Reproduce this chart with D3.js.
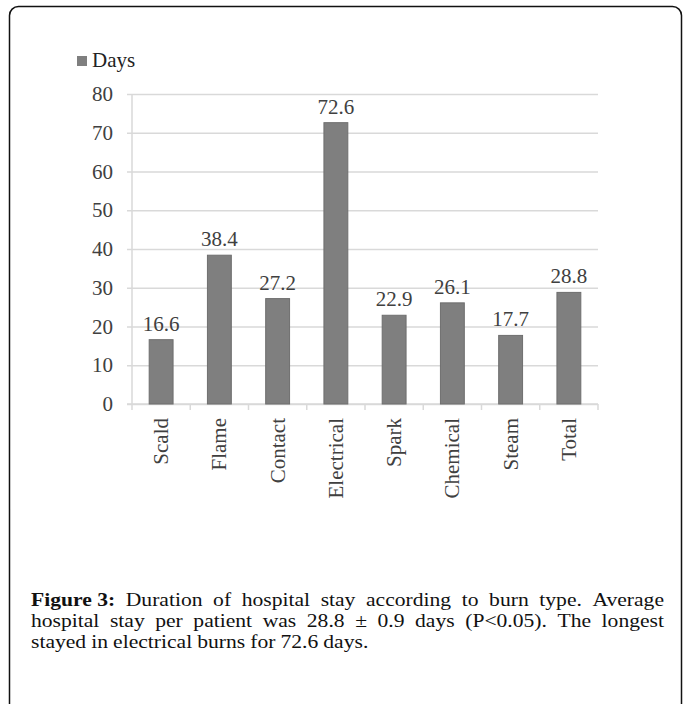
<!DOCTYPE html>
<html>
<head>
<meta charset="utf-8">
<script src="https://cdn.jsdelivr.net/npm/d3@7"></script>
<style>
  body { margin: 0; background: #fff; }
  svg { display: block; }
</style>
</head>
<body>
<div id="chart"></div>
<script>
// data
var categories = ["Scald", "Flame", "Contact", "Electrical", "Spark", "Chemical", "Steam", "Total"];
var days = [16.6, 38.4, 27.2, 72.6, 22.9, 26.1, 17.7, 28.8];
var yTicks = [0, 10, 20, 30, 40, 50, 60, 70, 80];
var seriesName = "Days";

var W = 683, H = 704;
var plot = {left: 132, right: 598, top: 94, bottom: 404};

var svg = d3.select("#chart")
  .append("svg")
  .attr("width", W)
  .attr("height", H);

// frame around figure
svg.append("rect")
  .attr("x", 9.5).attr("y", 6.5)
  .attr("width", 672).attr("height", 740)
  .attr("rx", 9)
  .attr("fill", "none")
  .attr("stroke", "#111")
  .attr("stroke-width", 1.5);

var x = d3.scaleBand()
  .domain(categories)
  .range([plot.left, plot.right])
  .paddingInner(0.59)
  .paddingOuter(0.295);

var y = d3.scaleLinear()
  .domain([0, 80])
  .range([plot.bottom, plot.top]);

var serif = "'Liberation Serif', 'Times New Roman', serif";
var fs = "21px";

// gridlines + y labels
var yAxis = svg.append("g")
  .attr("transform", "translate(" + plot.left + ",0)")
  .call(d3.axisLeft(y)
    .tickValues(yTicks)
    .tickSize(-(plot.right - plot.left))
    .tickPadding(19)
    .tickFormat(d3.format("d")));
yAxis.select(".domain").remove();
yAxis.selectAll(".tick line")
  .attr("x1", -5)
  .attr("stroke", "#d9d9d9")
  .attr("stroke-width", 1.5);
yAxis.selectAll(".tick text")
  .attr("fill", "#404040")
  .style("font-family", serif)
  .style("font-size", fs);

// y axis line
svg.append("line")
  .attr("x1", plot.left).attr("x2", plot.left)
  .attr("y1", y(80)).attr("y2", y(0))
  .attr("stroke", "#d9d9d9").attr("stroke-width", 1.5);

// x axis
var step = x.step();
var xAxis = svg.append("g")
  .attr("transform", "translate(0," + plot.bottom + ")");
xAxis.append("line")
  .attr("x1", plot.left - 5).attr("x2", plot.right)
  .attr("stroke", "#d9d9d9").attr("stroke-width", 1.5);
xAxis.selectAll("line.tk")
  .data(d3.range(categories.length + 1))
  .enter().append("line")
  .attr("class", "tk")
  .attr("x1", function(i) { return plot.left + i * step; })
  .attr("x2", function(i) { return plot.left + i * step; })
  .attr("y1", 0).attr("y2", 6)
  .attr("stroke", "#d9d9d9").attr("stroke-width", 1.5);
xAxis.selectAll("text")
  .data(categories)
  .enter().append("text")
  .attr("transform", function(d) {
    return "translate(" + (x(d) + x.bandwidth() / 2 + 7) + ",14) rotate(-90)";
  })
  .attr("text-anchor", "end")
  .attr("fill", "#404040")
  .style("font-family", serif)
  .style("font-size", fs)
  .text(function(d) { return d; });

// bars
svg.append("g")
  .selectAll("rect")
  .data(days)
  .enter().append("rect")
  .attr("x", function(d, i) { return x(categories[i]); })
  .attr("y", function(d) { return y(d); })
  .attr("width", x.bandwidth())
  .attr("height", function(d) { return y(0) - y(d); })
  .attr("fill", "#7f7f7f")
  .attr("stroke", "#6e6e6e")
  .attr("stroke-width", 1);

// value labels
svg.append("g")
  .selectAll("text")
  .data(days)
  .enter().append("text")
  .attr("x", function(d, i) { return x(categories[i]) + x.bandwidth() / 2; })
  .attr("y", function(d) { return y(d) - 9; })
  .attr("text-anchor", "middle")
  .attr("fill", "#404040")
  .style("font-family", serif)
  .style("font-size", fs)
  .text(function(d) { return d.toFixed(1); });

// legend
svg.append("rect")
  .attr("x", 77).attr("y", 56)
  .attr("width", 10).attr("height", 10)
  .attr("fill", "#7f7f7f");
svg.append("text")
  .attr("x", 92).attr("y", 67)
  .attr("fill", "#222")
  .style("font-family", serif)
  .style("font-size", fs)
  .text(seriesName);

// caption, justified like the journal layout (glyphs stretched a bit wider)
var capLines = [
  [["Figure 3:", true], ["Duration of hospital stay according to burn type. Average", false]],
  [["hospital stay per patient was 28.8 \u00B1 0.9 days (P<0.05). The longest", false]],
  [["stayed in electrical burns for 72.6 days.", false]]
];
var capLeft = 31, capRight = 664, capTop = 606, capLead = 21, stretch = 1.2;
var cap = svg.append("g")
  .attr("transform", "translate(" + capLeft + ",0) scale(" + stretch + ",1)");
var lineW = (capRight - capLeft) / stretch;

capLines.forEach(function(parts, li) {
  var words = [];
  parts.forEach(function(p) {
    if (p[1]) words.push({t: p[0], b: true});
    else p[0].split(" ").forEach(function(w) { words.push({t: w, b: false}); });
  });
  var nodes = words.map(function(w) {
    return cap.append("text")
      .attr("y", capTop + li * capLead)
      .attr("fill", "#111")
      .style("font-family", serif)
      .style("font-size", "18px")
      .style("font-weight", w.b ? "bold" : "normal")
      .text(w.t);
  });
  var widths = nodes.map(function(n) { return n.node().getComputedTextLength(); });
  var total = d3.sum(widths);
  var last = li === capLines.length - 1;
  var gap = last ? 4.2 : (lineW - total) / (words.length - 1);
  var cx = 0;
  nodes.forEach(function(n, i) {
    n.attr("x", cx);
    cx += widths[i] + gap;
  });
});
</script>
</body>
</html>
